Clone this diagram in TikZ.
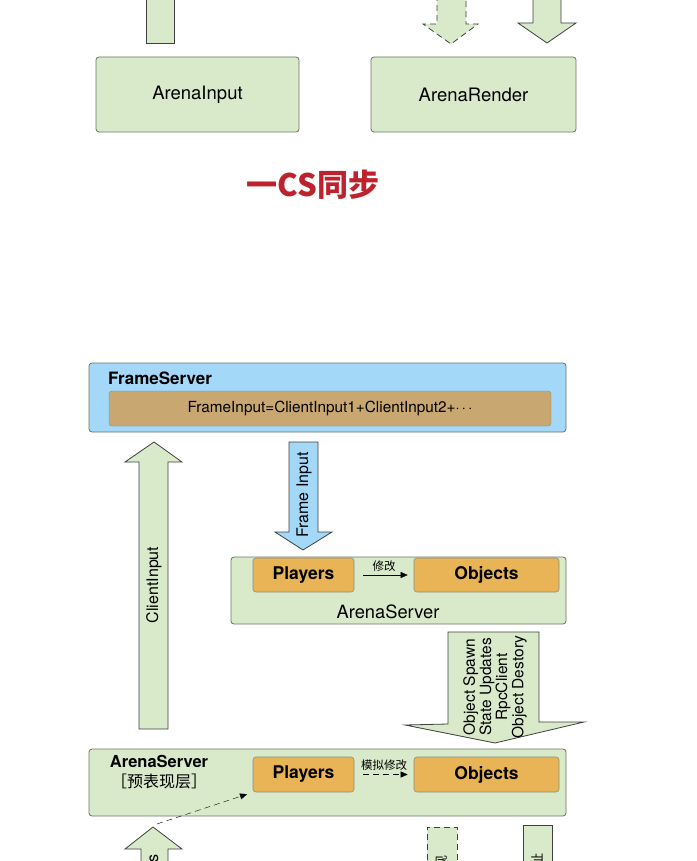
\documentclass[tikz,border=0pt]{standalone}
\usepackage{fontspec}
\setmainfont{TeX Gyre Heros}
\newfontfamily\cjk{Noto Sans CJK SC}
\usepackage{tikz}
\usetikzlibrary{arrows.meta}
\definecolor{boxgreen}{RGB}{217,234,203}
\definecolor{boxblue}{RGB}{163,216,248}
\definecolor{boxtan}{RGB}{200,168,112}
\definecolor{boxorange}{RGB}{232,180,85}
\definecolor{edgegray}{RGB}{105,115,100}
\definecolor{titlered}{RGB}{190,35,45}
\begin{document}
\begin{tikzpicture}[x=1pt,y=-1pt,
    panel/.style={draw=edgegray,fill=boxgreen,rounded corners=3pt,line width=0.8pt},
    inner/.style={draw=edgegray!80,fill=boxorange,rounded corners=3pt,line width=0.6pt,font=\bfseries\fontsize{17.5}{20}\selectfont},
    blockarrow/.style={draw=black!75,fill=boxgreen,line width=0.8pt,line join=miter},
    longdash/.style={dash pattern=on 6pt off 4pt},
    small/.style={font=\cjk\fontsize{11.5}{13}\selectfont}]
            \useasboundingbox (0,0) rectangle (696,861);
            \clip (0,0) rectangle (696,861);
            % top part
            \draw[blockarrow] (146,-5) -- (146,43) -- (174,43) -- (174,-5);
            \draw[blockarrow,longdash] (437,-5) -- (437,24) -- (423,24) -- (451,44) -- (478,24) -- (466,24) -- (466,-5);
            \draw[blockarrow] (533,-5) -- (533,23) -- (518,23) -- (547,43) -- (576,23) -- (561,23) -- (561,-5);
            \node (input) at (197.5,94.5) [panel,minimum width=203pt,minimum height=75pt,font=\fontsize{18.5}{21}\selectfont] {ArenaInput};
            \node (render) at (473.5,94.5) [panel,minimum width=205pt,minimum height=75pt,font=\fontsize{18.5}{21}\selectfont] {ArenaRender};
            \node (title) at (313,185) [text=titlered,font=\cjk\bfseries\fontsize{31}{35}\selectfont] {一CS同步};
            % frame server
            \node (frame) at (327.5,397.5) [draw=edgegray,fill=boxblue,rounded corners=3pt,line width=0.8pt,minimum width=477pt,minimum height=69pt] {};
            \node (frameLabel) at (108,378) [anchor=west,inner sep=0pt,font=\bfseries\fontsize{17}{20}\selectfont] {FrameServer};
            \node (frameInput) at (330,408.5) [draw=edgegray!80,fill=boxtan,rounded corners=3pt,minimum width=442pt,minimum height=35pt,font=\fontsize{15.3}{18}\selectfont] {FrameInput=ClientInput1+ClientInput2+$\cdots$};
            \draw[blockarrow] (139,729) -- (139,462) -- (125,462) -- (154,442) -- (182,462) -- (168,462) -- (168,729) -- cycle;
            \node (clientIn) at (154,585) [rotate=90,font=\fontsize{16}{19}\selectfont] {ClientInput};
            \draw[blockarrow,fill=boxblue] (289,442) -- (289,532) -- (275,532) -- (303,550) -- (332,532) -- (318,532) -- (318,442) -- cycle;
            \node (frameIn) at (304,495) [rotate=90,font=\fontsize{16}{19}\selectfont] {Frame Input};
            % arena server
            \node (server) at (398.5,590.5) [panel,minimum width=335pt,minimum height=67pt] {};
            \node (players) at (303.5,575) [inner,minimum width=101pt,minimum height=34pt] {Players};
            \node (objects) at (486.5,575) [inner,minimum width=145pt,minimum height=34pt] {Objects};
            \draw[-{Triangle[length=7pt,width=6pt]},shorten <=9pt,shorten >=6pt] (players) -- node[small,above=0pt] {修改} (objects);
            \node (serverLabel) at (388,612) [font=\fontsize{18.3}{21}\selectfont] {ArenaServer};
            \draw[blockarrow] (448,632) -- (448,724) -- (405,725) -- (495,743) -- (584,722) -- (539,722) -- (539,632) -- cycle;
            \node (sync) at (495,687) [rotate=90,align=center,font=\fontsize{15.5}{16.2}\selectfont] {Object Spawn\\State Updates\\RpcClient\\Object Destory};
            % client arena server
            \node (client) at (327.5,782.5) [panel,minimum width=477pt,minimum height=67pt] {};
            \node (clientLabel) at (159,772) [align=center,font=\bfseries\fontsize{16.5}{20}\selectfont] {ArenaServer\\{\cjk\mdseries\fontsize{16}{18}\selectfont ［预表现层］}};
            \node (playersB) at (303.5,774.5) [inner,minimum width=101pt,minimum height=35pt] {Players};
            \node (objectsB) at (486.5,774.5) [inner,minimum width=145pt,minimum height=35pt] {Objects};
            \draw[longdash,-{Triangle[length=7pt,width=6pt]},shorten <=9pt,shorten >=6pt] (playersB) -- node[small,above=1pt] {模拟修改} (objectsB);
            % bottom part
            \draw[blockarrow] (141,870) -- (141,849) -- (125,849) -- (153,827) -- (182,849) -- (168,849) -- (168,870);
            \coordinate (inTip) at (157,824);
            \draw[longdash,-{Triangle[length=7pt,width=6pt]},shorten >=6pt] (inTip) -- (playersB.south west);
            \node (inputs) at (154,851) [rotate=90,anchor=east,font=\fontsize{16}{19}\selectfont] {Inputs};
            \draw[blockarrow,longdash] (427,870) -- (427,827) -- (457,827) -- (457,870);
            \node (renderIn) at (442,852) [rotate=90,anchor=east,font=\cjk\fontsize{13}{16}\selectfont] {表现};
            \draw[blockarrow] (523,870) -- (523,825) -- (552,825) -- (552,870);
            \node (pull) at (537,850) [rotate=90,anchor=east,font=\cjk\fontsize{13}{16}\selectfont] {拉扯};
        \end{tikzpicture}
\end{document}
